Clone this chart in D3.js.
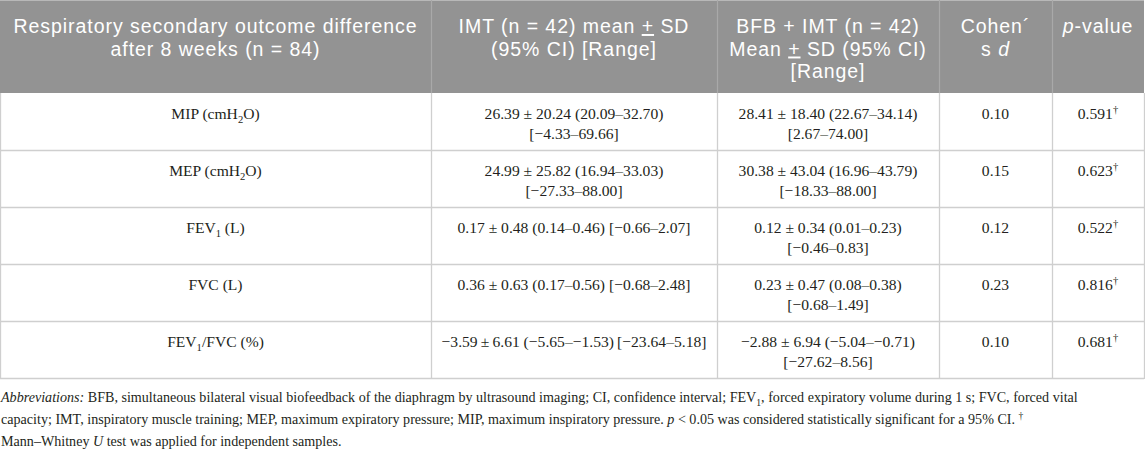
<!DOCTYPE html>
<html>
<head>
<meta charset="utf-8">
<script src="https://cdn.jsdelivr.net/npm/d3@7/dist/d3.min.js"></script>
<style>
  html, body { margin: 0; padding: 0; background: #fff; }
  svg { display: block; }
</style>
</head>
<body>
<svg id="chart" width="1145" height="456"></svg>
<script>
// ---------- DATA ----------
// header lines per column; "{+}" = underlined plus, "*x*" = italic
const headerLines = [
  ["Respiratory secondary outcome difference", "after 8 weeks (n = 84)"],
  ["IMT (n = 42) mean {+} SD", "(95% CI) [Range]"],
  ["BFB + IMT (n = 42)", "Mean {+} SD (95% CI)", "[Range]"],
  ["Cohen\u00B4", "s *d*"],
  ["*p*-value"]
];
// outcome labels; "_x" = subscript character
const outcomes = ["MIP (cmH_2O)", "MEP (cmH_2O)", "FEV_1 (L)", "FVC (L)", "FEV_1/FVC (%)"];
const imtValues = [
  ["26.39 \u00B1 20.24 (20.09\u201332.70)", "[\u22124.33\u201369.66]"],
  ["24.99 \u00B1 25.82 (16.94\u201333.03)", "[\u221227.33\u201388.00]"],
  ["0.17 \u00B1 0.48 (0.14\u20130.46) [\u22120.66\u20132.07]"],
  ["0.36 \u00B1 0.63 (0.17\u20130.56) [\u22120.68\u20132.48]"],
  ["\u22123.59\u2009\u00B1\u20096.61 (\u22125.65\u2013\u22121.53)\u2009[\u221223.64\u20135.18]"]
];
const bfbValues = [
  ["28.41 \u00B1 18.40 (22.67\u201334.14)", "[2.67\u201374.00]"],
  ["30.38 \u00B1 43.04 (16.96\u201343.79)", "[\u221218.33\u201388.00]"],
  ["0.12 \u00B1 0.34 (0.01\u20130.23)", "[\u22120.46\u20130.83]"],
  ["0.23 \u00B1 0.47 (0.08\u20130.38)", "[\u22120.68\u20131.49]"],
  ["\u22122.88 \u00B1 6.94 (\u22125.04\u2013\u22120.71)", "[\u221227.62\u20138.56]"]
];
const cohensD = ["0.10", "0.15", "0.12", "0.23", "0.10"];
const pValues = ["0.591", "0.623", "0.522", "0.816", "0.681"];
const footnoteLines = [
  "*Abbreviations:* BFB, simultaneous bilateral visual biofeedback of the diaphragm by ultrasound imaging; CI, confidence interval; FEV_1, forced expiratory volume during 1 s; FVC, forced vital",
  "capacity; IMT, inspiratory muscle training; MEP, maximum expiratory pressure; MIP, maximum inspiratory pressure. *p* < 0.05 was considered statistically significant for a 95% CI. ^\u2020",
  "Mann\u2013Whitney *U* test was applied for independent samples."
];

// ---------- LAYOUT ----------
const colEdges = [0, 431, 717, 939, 1052, 1144];
const headerH = 93;
const rowH = 57;
const serif = "'Liberation Serif', 'Times New Roman', serif";
const sans = "'Liberation Sans', Arial, sans-serif";

const svg = d3.select("#chart");

const rowScale = d3.scaleBand()
  .domain(d3.range(outcomes.length))
  .range([headerH, headerH + rowH * outcomes.length]);

const colCenter = i => (colEdges[i] + colEdges[i + 1]) / 2;

// rich text parser: *italic*, _x subscript char, ^x superscript char, {+} underlined plus
function addRich(parent, str, baseSize) {
  let i = 0, italic = false, buf = "", pendingDy = 0;
  const emit = (txt, opts = {}) => {
    const ts = parent.append("tspan")
      .style("font-style", italic ? "italic" : "normal")
      .text(txt);
    const dy = (opts.dy || 0) + pendingDy;
    if (dy) ts.attr("dy", dy);
    pendingDy = opts.restore || 0;
    if (opts.size) ts.style("font-size", opts.size + "px");
    if (opts.underline) ts.style("text-decoration", "underline");
  };
  const flush = () => { if (buf) { emit(buf); buf = ""; } };
  while (i < str.length) {
    const c = str[i];
    if (c === "*") { flush(); italic = !italic; i++; continue; }
    if (c === "_" || c === "^") {
      flush();
      const off = c === "_" ? baseSize * 0.25 : -baseSize * 0.38;
      emit(str[i + 1], { dy: off, restore: -off, size: baseSize * 0.68 });
      i += 2; continue;
    }
    if (str.startsWith("{+}", i)) {
      flush();
      emit("+", { underline: true });
      i += 3; continue;
    }
    buf += c; i++;
  }
  flush();
}

// one <text> per cell, each line an absolutely positioned tspan
function cellText(parent, lines, x, y0, lineGap, opts) {
  const t = parent.append("text")
    .attr("text-anchor", opts.anchor || "middle")
    .attr("fill", opts.fill)
    .style("font-family", opts.family)
    .style("font-size", opts.size + "px");
  if (opts.spacing) t.style("letter-spacing", opts.spacing);
  lines.forEach((ln, li) => {
    const lineSpan = t.append("tspan").attr("x", x).attr("y", y0 + li * lineGap);
    addRich(lineSpan, ln, opts.size);
  });
  return t;
}

// ---------- HEADER ----------
svg.append("rect")
  .attr("x", 0).attr("y", 0).attr("width", colEdges[5]).attr("height", headerH)
  .attr("fill", "#939393");
svg.append("line")
  .attr("x1", 0).attr("x2", colEdges[5]).attr("y1", 0.5).attr("y2", 0.5)
  .attr("stroke", "#b8b8b8").attr("stroke-width", 1);

colEdges.slice(1, -1).forEach(x => {
  svg.append("line")
    .attr("x1", x + 0.5).attr("x2", x + 0.5).attr("y1", 0).attr("y2", headerH)
    .attr("stroke", "#a9a9a9").attr("stroke-width", 1.2);
});

const headerSize = 19.5;
headerLines.forEach((lines, ci) => {
  cellText(svg, lines, colCenter(ci), 33, 22.5, {
    fill: "#ffffff", family: sans, size: headerSize, spacing: "0.95px"
  });
});

// ---------- BODY ----------
const bodySize = 15.6;
const body = svg.append("g");

outcomes.forEach((o, ri) => {
  const y = rowScale(ri) + rowScale.bandwidth();
  body.append("line")
    .attr("x1", 0).attr("x2", colEdges[5])
    .attr("y1", y + 0.5).attr("y2", y + 0.5)
    .attr("stroke", "#cfcfcf").attr("stroke-width", 1.3);
});
colEdges.forEach(x => {
  body.append("line")
    .attr("x1", x + 0.5).attr("x2", x + 0.5)
    .attr("y1", headerH).attr("y2", rowScale.range()[1] + 1)
    .attr("stroke", "#cfcfcf").attr("stroke-width", 1.3);
});

const columnsData = [
  outcomes.map(d => [d]),
  imtValues,
  bfbValues,
  cohensD.map(d => [d]),
  pValues.map(d => [d + "^\u2020"])
];

columnsData.forEach((col, ci) => {
  col.forEach((lines, ri) => {
    cellText(body, lines, colCenter(ci), rowScale(ri) + 26, 20, {
      fill: "#231f20", family: serif, size: bodySize
    });
  });
});

// ---------- FOOTNOTE ----------
const footSize = 14.1;
cellText(svg, footnoteLines, 1, 402, 22, {
  anchor: "start", fill: "#231f20", family: serif, size: footSize
});
</script>
</body>
</html>
